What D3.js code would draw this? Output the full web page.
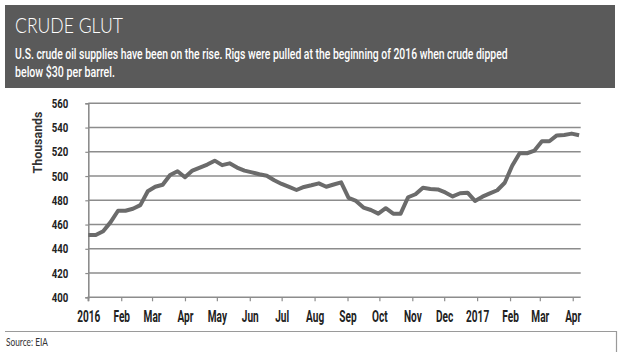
<!DOCTYPE html>
<html>
<head>
<meta charset="utf-8">
<script src="https://cdn.jsdelivr.net/npm/d3@7"></script>
<style>
  html, body { margin: 0; padding: 0; background: #ffffff; }
  svg { display: block; }
</style>
</head>
<body>
<svg id="chart" width="620" height="352"></svg>
<script>
// ---- Data ----
const title = "CRUDE GLUT";
const subtitleLines = [
  "U.S. crude oil supplies have been on the rise. Rigs were pulled at the beginning of 2016 when crude dipped",
  "below $30 per barrel."
];
const sourceText = "Source: EIA";
const yAxisTitle = "Thousands";

const weekDates = [
  "2016-01-01","2016-01-08","2016-01-15","2016-01-22","2016-01-29",
  "2016-02-05","2016-02-12","2016-02-19","2016-02-26",
  "2016-03-04","2016-03-11","2016-03-18","2016-03-25",
  "2016-04-01","2016-04-08","2016-04-15","2016-04-22","2016-04-29",
  "2016-05-06","2016-05-13","2016-05-20","2016-05-27",
  "2016-06-03","2016-06-10","2016-06-17","2016-06-24",
  "2016-07-01","2016-07-08","2016-07-15","2016-07-22","2016-07-29",
  "2016-08-05","2016-08-12","2016-08-19","2016-08-26",
  "2016-09-02","2016-09-09","2016-09-16","2016-09-23","2016-09-30",
  "2016-10-07","2016-10-14","2016-10-21","2016-10-28",
  "2016-11-04","2016-11-11","2016-11-18","2016-11-25",
  "2016-12-02","2016-12-09","2016-12-16","2016-12-23","2016-12-30",
  "2017-01-06","2017-01-13","2017-01-20","2017-01-27",
  "2017-02-03","2017-02-10","2017-02-17","2017-02-24",
  "2017-03-03","2017-03-10","2017-03-17","2017-03-24","2017-03-31",
  "2017-04-07"
];
const supplies = [
  451.4, 451.4, 454.5, 462.0, 471.4,
  471.4, 473.0, 476.0, 487.5,
  491.2, 492.8, 500.9, 504.0,
  499.0, 504.5, 507.0, 509.5, 512.7,
  509.0, 510.5, 507.0, 504.5,
  503.0, 501.5, 500.3, 496.5,
  493.5, 491.0, 488.5, 491.0, 492.4,
  494.0, 491.2, 493.0, 494.8,
  482.0, 479.5, 474.0, 472.0, 469.0,
  473.5, 469.0, 469.0, 482.5,
  485.0, 490.4, 489.3, 489.0,
  486.5, 483.2, 485.8, 486.3, 479.5,
  483.0, 485.7, 488.3, 494.5,
  508.5, 518.8, 518.8, 521.0,
  528.7, 528.7, 533.5, 533.9, 535.0,
  533.6
];
const xTickDates = [
  "2016-01-01","2016-02-01","2016-03-01","2016-04-01","2016-05-01","2016-06-01",
  "2016-07-01","2016-08-01","2016-09-01","2016-10-01","2016-11-01","2016-12-01",
  "2017-01-01","2017-02-01","2017-03-01","2017-04-01"
];
const xTickLabels = ["2016","Feb","Mar","Apr","May","Jun","Jul","Aug","Sep","Oct","Nov","Dec","2017","Feb","Mar","Apr"];
const yTicks = [400, 420, 440, 460, 480, 500, 520, 540, 560];
const yDomain = [400, 560];
const xDomainDates = ["2016-01-01", "2017-04-08T12:00"];

// ---- Setup ----
const parse = s => new Date(s.length > 10 ? s : s + "T00:00");
const svg = d3.select("#chart");

// Fit a text horizontally to a target width via a scale transform
function fitText(sel, x0, y0, width, rotate) {
  const natural = sel.node().getComputedTextLength();
  const k = width / natural;
  sel.attr("x", null).attr("y", null)
    .attr("transform", `translate(${x0},${y0})${rotate ? ` rotate(${rotate})` : ""} scale(${k},1)`);
}

// Header box
svg.append("rect").attr("x", 5).attr("y", 5).attr("width", 610).attr("height", 83)
  .attr("fill", "#5a5a5a");
const titleText = svg.append("text")
  .attr("font-family", "Lato, 'Open Sans', sans-serif").attr("font-weight", 300)
  .attr("font-size", 21).attr("fill", "#ffffff")
  .text(title);
fitText(titleText, 15, 32.5, 108);
const subLens = [493, 100];
const subBase = [58.5, 76.5];
subtitleLines.forEach((t, i) => {
  const s = svg.append("text")
    .attr("font-family", "Roboto, sans-serif").attr("font-weight", 500)
    .attr("font-size", 15.5).attr("fill", "#ffffff")
    .text(t);
  fitText(s, 15, subBase[i], subLens[i]);
});

// Scales
const x = d3.scaleTime().domain(xDomainDates.map(parse)).range([88.3, 580.7]);
const y = d3.scaleLinear().domain(yDomain).range([297.3, 103.3]);

// Gridlines
const grid = svg.append("g");
grid.selectAll("line").data(yTicks.filter(v => v !== yDomain[0])).join("line")
  .attr("x1", x.range()[0]).attr("x2", x.range()[1])
  .attr("y1", d => y(d)).attr("y2", d => y(d))
  .attr("stroke", "#8c8c8c").attr("stroke-width", 1.6);

// Y axis
const yAxis = svg.append("g").attr("transform", `translate(${x.range()[0]},0)`)
  .call(d3.axisLeft(y).tickValues(yTicks).tickSize(3).tickPadding(20).tickFormat(d3.format("d")));
yAxis.select(".domain").attr("stroke", "#8c8c8c").attr("stroke-width", 1.6);
yAxis.selectAll(".tick line").attr("stroke", "#8c8c8c").attr("stroke-width", 1.2);
yAxis.selectAll(".tick text")
  .attr("font-family", "Roboto, sans-serif").attr("font-weight", 700)
  .attr("font-size", 13).attr("fill", "#222")
  .attr("x", -20 / 0.74)
  .attr("transform", "scale(0.74,1)");

// X axis
const xAxis = svg.append("g").attr("transform", `translate(0,${y.range()[0]})`)
  .call(d3.axisBottom(x).tickValues(xTickDates.map(parse)).tickSize(4).tickPadding(9)
    .tickFormat((d, i) => xTickLabels[i]));
xAxis.select(".domain").attr("stroke", "#8c8c8c").attr("stroke-width", 1.6)
  .attr("d", `M${x.range()[0]},4V0H${x.range()[1]}`);
xAxis.selectAll(".tick line").attr("stroke", "#8c8c8c").attr("stroke-width", 1.2);
xAxis.selectAll(".tick text")
  .attr("font-family", "Roboto, sans-serif").attr("font-weight", 700)
  .attr("font-size", 16).attr("fill", "#222")
  .attr("transform", "scale(0.63,1)");

// Y axis title
const yTitle = svg.append("text")
  .attr("text-anchor", "middle")
  .attr("font-family", "Roboto, sans-serif").attr("font-weight", 700)
  .attr("font-size", 13).attr("fill", "#333")
  .text(yAxisTitle);
fitText(yTitle, 41.5, 142.5, 62, -90);

// Line
const series = weekDates.map((d, i) => ({ date: parse(d), value: supplies[i] }));
svg.append("path").datum(series)
  .attr("fill", "none").attr("stroke", "#6b6b6b").attr("stroke-width", 4)
  .attr("stroke-linejoin", "round").attr("stroke-linecap", "butt")
  .attr("d", d3.line().x(d => x(d.date)).y(d => y(d.value)));

// Footer
svg.append("path").attr("d", "M5,331.5H616.5V352")
  .attr("fill", "none").attr("stroke", "#9a9a9a").attr("stroke-width", 1.2);
const src = svg.append("text")
  .attr("font-family", "Lato, sans-serif").attr("font-size", 11.5).attr("fill", "#333")
  .text(sourceText);
fitText(src, 6, 346, 42);
</script>
</body>
</html>
